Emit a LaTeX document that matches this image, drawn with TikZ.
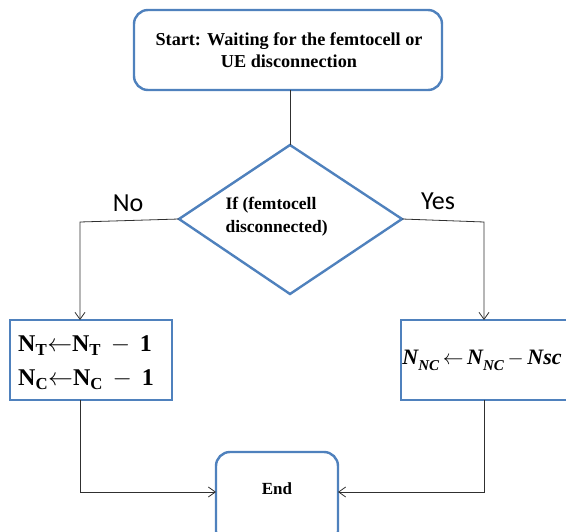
\documentclass[tikz,border=0pt]{standalone}
\usepackage{fontspec}
\setmainfont{Liberation Serif}
\newfontfamily\yesnofont{Carlito}
\usetikzlibrary{shapes.geometric,arrows.meta}
\definecolor{boxblue}{HTML}{4F81BD}
\definecolor{linegray}{HTML}{303030}
\tikzset{
  roundbox/.style={draw=boxblue, line width=2.4pt, rounded corners=14pt, fill=white},
  sqbox/.style={draw=boxblue, line width=2.4pt, fill=white},
  conn/.style={draw=linegray, line width=0.8pt},
  arr/.style={conn, -{Straight Barb[length=7pt,width=10pt]}},
  lbl/.style={font=\yesnofont\fontsize{26}{30}\selectfont},
  btext/.style={font=\bfseries\fontsize{18.2}{22}\selectfont, align=center}
}
\newcommand{\bisub}[1]{\raisebox{-0.28em}{\fontsize{15}{15}\selectfont #1}}
\begin{document}
\begin{tikzpicture}[x=1pt,y=-1pt]
\useasboundingbox (0,0) rectangle (566,532);
% start box
\draw[roundbox] (134,10) rectangle (442,90);
\node[btext] (start) at (289,50) {Start: Waiting for the femtocell or\\UE disconnection};
\coordinate (sb) at (290,90);
% diamond
\coordinate (dt) at (290,145);
\coordinate (dl) at (179,219);
\coordinate (dr) at (402,219);
\coordinate (db) at (290,294);
\draw[draw=boxblue, line width=2.4pt, line join=miter] (dt) -- (dr) -- (db) -- (dl) -- cycle;
\node[font=\bfseries\fontsize{17.5}{23}\selectfont, align=left, anchor=west] (cond) at (222,217) {If (femtocell\\disconnected)};
% left box
\draw[sqbox] (10,320) rectangle (172,400);
\node[font=\fontsize{24}{34}\selectfont, align=left] (lbox) at (86,363) {$\mathbf{N_T{\leftarrow}N_T\,-\,1}$\\[0pt]$\mathbf{N_C{\leftarrow}N_C\,-\,1}$};
% right box
\draw[sqbox] (401,320) rectangle (570,400);
\node[font=\bfseries\itshape\fontsize{22}{24}\selectfont, inner sep=0pt] (rbox) at (482,360) {N\bisub{NC}\,$\leftarrow$\,N\bisub{NC}\,$-$\,Nsc};
% end box
\draw[roundbox] (216,452) rectangle (338,545);
\node[btext, font=\bfseries\fontsize{17}{22}\selectfont] (endn) at (277,489) {End};
% labels
\node[lbl] (no) at (128,203) {No};
\node[lbl] (yes) at (438,201) {Yes};
% coordinates
\coordinate (ltop) at (80,320);
\coordinate (rtop) at (484,320);
\coordinate (lbot) at (80,400);
\coordinate (rbot) at (484,400);
\coordinate (eleft) at (216,492);
\coordinate (eright) at (338,492);
\coordinate (lc) at (80,222);
\coordinate (rc) at (484,222);
\coordinate (lc2) at (80,492);
\coordinate (rc2) at (484,492);
% connectors
\draw[conn] (sb) -- (dt);
\draw[arr] (dl) -- (lc) -- (ltop);
\draw[arr] (dr) -- (rc) -- (rtop);
\draw[arr] (lbot) -- (lc2) -- (eleft);
\draw[arr] (rbot) -- (rc2) -- (eright);
\end{tikzpicture}
\end{document}
